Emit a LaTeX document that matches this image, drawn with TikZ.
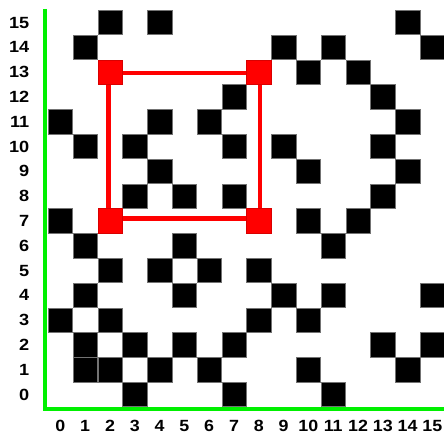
\documentclass[tikz,border=0pt]{standalone}
\usepackage{fontspec}
\setmainfont{Liberation Sans}
\usepackage{graphicx}
\definecolor{axisgreen}{RGB}{0,240,0}
\definecolor{cellred}{RGB}{255,0,0}
\begin{document}
\begin{tikzpicture}[x=1pt,y=-1pt,
  cell/.style={rectangle, minimum size=24.4pt, inner sep=0pt, fill=black, draw=black!55, line width=0.4pt},
  redcell/.style={cell, fill=cellred, draw=cellred!85!black},
  redline/.style={draw=cellred, line width=4.5pt},
  axis/.style={draw=axisgreen, line width=4.5pt, line join=miter},
  lab/.style={font=\fontsize{16.2}{16.2}\selectfont\bfseries, inner sep=0pt}]
\useasboundingbox (0,0) rectangle (444,436);
% axes
\coordinate (gtop) at (45,9);
\coordinate (gorig) at (45,409);
\coordinate (gend) at (446,409);
\draw[axis] (gtop) -- (gorig) -- (gend);
% black cells
\foreach \r/\cs in {15/{2,4,14},14/{1,9,11,15},13/{10,12},12/{7,13},11/{0,4,6,14},
  10/{1,3,7,9,13},9/{4,10,14},8/{3,5,7,13},7/{0,10,12},6/{1,5,11},5/{2,4,6,8},
  4/{1,5,9,11,15},3/{0,2,8,10},2/{1,3,5,7,13,15},1/{1,2,4,6,10,14},0/{3,7,11}}{
  \foreach \c in \cs {
    \node[cell] (c-\c-\r) at ({60.4+24.8*\c},{22.4+24.8*(15-\r)}) {};
  }
}
% red rectangle
\coordinate (rtl) at (108.5,73);
\coordinate (rtr) at (260,73);
\coordinate (rbr) at (260,218.5);
\coordinate (rbl) at (108.5,218.5);
\draw[redline] (rtl) -- (rtr) -- (rbr) -- (rbl) -- cycle;
\foreach \c/\r in {2/13,8/13,2/7,8/7}{
  \node[redcell] (c-\c-\r) at ({60.4+24.8*\c},{22.4+24.8*(15-\r)}) {};
}
% labels
\foreach \r in {0,...,15}{
  \node[lab, anchor=east] (y-\r) at (29.5,{22.6+24.8*(15-\r)}) {\scalebox{1.12}[1]{\r}};
}
\foreach \c in {0,...,15}{
  \node[lab] (x-\c) at ({60.4+24.8*\c},426) {\scalebox{1.1}[1]{\c}};
}
\end{tikzpicture}
\end{document}
